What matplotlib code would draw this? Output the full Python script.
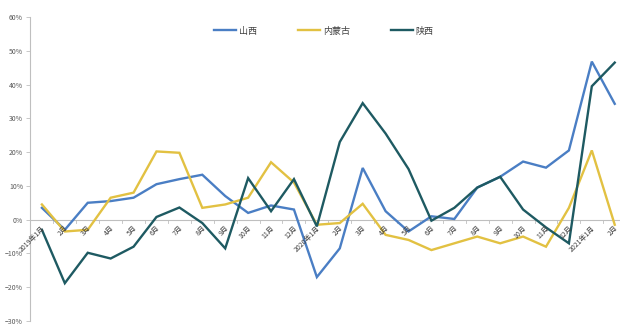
import matplotlib
matplotlib.use('Agg')
import matplotlib.pyplot as plt
from matplotlib.ticker import FixedLocator, PercentFormatter

plt.rcParams['font.family'] = ['Noto Sans CJK SC', 'DejaVu Sans']

# Monthly year-on-year growth, %
months = ['2019年1月', '2月', '3月', '4月', '5月', '6月', '7月', '8月', '9月', '10月',
          '11月', '12月', '2020年1月', '2月', '3月', '4月', '5月', '6月', '7月', '8月',
          '9月', '10月', '11月', '12月', '2021年1月', '2月']
shanxi = [3.5, -3.0, 5.0, 5.5, 6.5, 10.5, 12.0, 13.3, 7.0, 2.0,
          4.2, 3.0, -17.0, -8.5, 15.3, 2.5, -3.5, 1.0, 0.2, 9.5,
          12.7, 17.2, 15.4, 20.5, 46.8, 34.3]
neimenggu = [4.5, -3.5, -3.0, 6.5, 8.0, 20.2, 19.8, 3.5, 4.5, 6.5,
             17.0, 11.0, -1.5, -1.0, 4.7, -4.5, -6.0, -9.0, -7.0, -5.0,
             -7.0, -5.0, -8.0, 3.5, 20.5, -1.5]
shaanxi = [-3.0, -18.8, -9.8, -11.5, -8.0, 0.8, 3.6, -1.0, -8.5, 12.3,
           2.5, 12.0, -2.0, 23.0, 34.5, 25.5, 15.0, -0.3, 3.5, 9.5,
           12.7, 3.0, -2.3, -7.0, 39.5, 46.5]
series_names = ['山西', '内蒙古', '陕西']
colors = ['#4a7ec4', '#e2c142', '#1e5a62']

fig = plt.figure(figsize=(6.2, 3.25), dpi=100)
ax = fig.add_axes([30 / 620, 4 / 325, 590 / 620, 304 / 325])

x = list(range(len(months)))
for vals, name, c in zip([shanxi, neimenggu, shaanxi], series_names, colors):
    ax.plot(x, vals, color=c, lw=1.7, label=name, solid_joinstyle='miter')

ax.set_xlim(-0.52, 25.23)
ax.set_ylim(-30, 60)

# zero line acts as the category axis
ax.axhline(0, color='#bfbfbf', lw=0.8, zorder=0)
for b in [i + 0.5 for i in range(-1, len(months))]:
    ax.plot([b, b], [0, -1.0], color='#bfbfbf', lw=0.6, zorder=0)

for i, lab in enumerate(months):
    ax.text(i - 0.02, -1.3, lab, rotation=45, ha='right', va='top',
            rotation_mode='anchor', fontsize=5, color='#404040')

for s in ['top', 'right', 'bottom']:
    ax.spines[s].set_visible(False)
ax.spines['left'].set_color('#bfbfbf')
ax.spines['left'].set_linewidth(0.8)
ax.set_xticks([])
ax.yaxis.set_major_locator(FixedLocator(range(-30, 61, 10)))
ax.yaxis.set_major_formatter(PercentFormatter(decimals=0))
ax.tick_params(axis='y', labelsize=5, colors='#595959', length=3,
               width=0.6, color='#bfbfbf', pad=2)

fig.legend(loc='center', bbox_to_anchor=(324 / 620, 1 - 31 / 325), ncol=3,
           frameon=False, fontsize=6.5, handlelength=2.4, columnspacing=4.6,
           handletextpad=0.3, labelcolor='#404040')

fig.savefig('out.png', dpi=100)
